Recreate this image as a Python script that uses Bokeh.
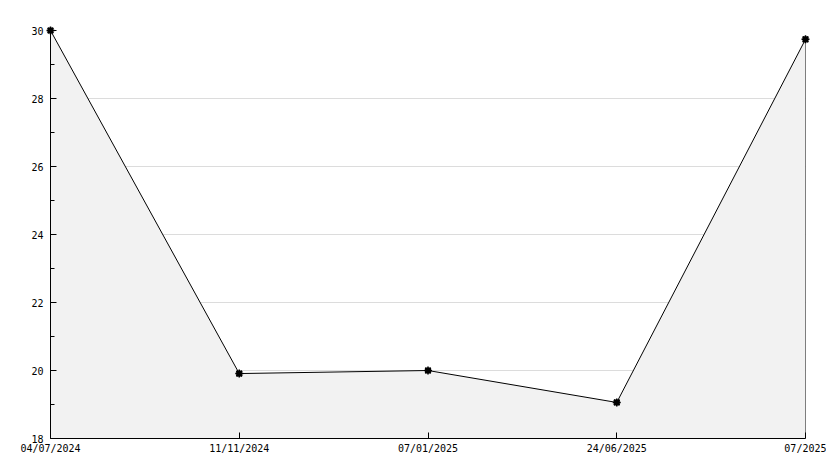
from bokeh.plotting import figure
from bokeh.models import FixedTicker, Range1d
from bokeh.embed import file_html
from bokeh.resources import INLINE

dates = ["04/07/2024", "11/11/2024", "07/01/2025", "24/06/2025", "07/2025"]
values = [30.0, 19.91, 20.0, 19.06, 29.74]
y_ticks = [18, 20, 22, 24, 26, 28, 30]
y_minor = [19, 21, 23, 25, 27, 29]

xs = list(range(len(dates)))
y_min, y_max = 18, 30

p = figure(width=826, height=458, output_backend="svg", toolbar_location=None,
           x_range=Range1d(0, len(dates) - 1), y_range=Range1d(y_min, y_max),
           min_border_left=50, min_border_right=21, min_border_top=30, min_border_bottom=20)
p.outline_line_color = None
p.background_fill_color = "white"
p.border_fill_color = "white"

p.varea(x=xs, y1=[y_min] * len(xs), y2=values, fill_color="#f2f2f2")
p.line(xs, values, line_color="black", line_width=1)
p.segment(x0=[xs[-1]], y0=[y_min], x1=[xs[-1]], y1=[values[-1]], line_color="black", line_width=1)
p.scatter(xs, values, marker="square", size=5, color="black", level="overlay")
p.scatter(xs, values, marker="asterisk", size=8, line_color="black", line_width=1.5, level="overlay")

p.xgrid.visible = False
p.ygrid.grid_line_color = "#dcdcdc"
p.ygrid.ticker = FixedTicker(ticks=y_ticks)

p.xaxis.ticker = FixedTicker(ticks=xs)
p.xaxis.major_label_overrides = {i: d for i, d in enumerate(dates)}
p.yaxis.ticker = FixedTicker(ticks=y_ticks, minor_ticks=y_minor)

for ax in (p.xaxis[0], p.yaxis[0]):
    ax.axis_line_color = "black"
    ax.major_tick_line_color = "black"
    ax.minor_tick_line_color = "black"
    ax.major_tick_in = 6
    ax.major_tick_out = 0
    ax.minor_tick_in = 4
    ax.minor_tick_out = 0
    ax.major_label_text_font = "DejaVu Sans Mono"
    ax.major_label_text_font_size = "10px"
    ax.major_label_text_color = "black"
p.yaxis.major_label_standoff = 7
p.xaxis.minor_tick_line_color = None
p.xaxis.major_label_standoff = 4

open("out.html", "w").write(file_html(p, INLINE))
